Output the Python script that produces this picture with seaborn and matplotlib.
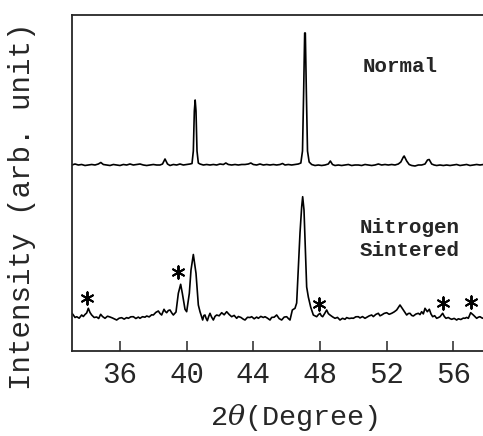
import matplotlib
matplotlib.use("Agg")
import matplotlib.pyplot as plt
import seaborn as sns
import pandas as pd

# ---- data (y in arbitrary, stacked units) ----
normal_x = [33.12, 33.3, 33.5, 33.7, 33.9, 34.1, 34.3, 34.5, 34.7, 34.85, 35.0, 35.2, 35.4, 35.6,
            35.8, 36.0, 36.2, 36.4, 36.6, 36.8, 37.0, 37.2, 37.4, 37.6, 37.8, 38.0, 38.2, 38.4,
            38.55, 38.7, 38.85, 39.0, 39.2, 39.4, 39.6, 39.8, 40.0, 40.2, 40.32, 40.40, 40.46,
            40.51, 40.56, 40.62, 40.70, 40.8, 41.0, 41.2, 41.4, 41.6, 41.8, 42.0, 42.2, 42.35,
            42.5, 42.7, 42.9, 43.1, 43.3, 43.5, 43.7, 43.85, 44.0, 44.2, 44.4, 44.6, 44.8, 45.0,
            45.2, 45.4, 45.6, 45.75, 45.9, 46.1, 46.3, 46.5, 46.7, 46.85, 46.95, 47.02, 47.08,
            47.12, 47.18, 47.25, 47.35, 47.5, 47.7, 47.9, 48.1, 48.3, 48.5, 48.62, 48.75, 48.9,
            49.1, 49.3, 49.5, 49.7, 49.9, 50.1, 50.3, 50.5, 50.7, 50.9, 51.1, 51.3, 51.5, 51.7,
            51.9, 52.1, 52.3, 52.5, 52.7, 52.85, 53.0, 53.05, 53.2, 53.35, 53.5, 53.7, 53.9,
            54.1, 54.3, 54.45, 54.55, 54.7, 54.85, 55.0, 55.2, 55.4, 55.6, 55.8, 56.0, 56.2,
            56.4, 56.6, 56.8, 57.0, 57.2, 57.4, 57.6, 57.8]
normal_y = [186, 187, 186, 186.5, 185.5, 186, 186.5, 186, 187, 188.5, 186.5, 186, 185.5, 186.5,
            186, 185.5, 186.5, 186, 187, 186, 186.5, 187, 186, 185.5, 186, 186.5, 186, 186,
            187, 192, 187, 185.5, 186.5, 186, 187, 186, 186.5, 187, 187.5, 200, 240,
            251, 240, 200, 188, 187, 186, 186.5, 186, 186.5, 186, 187, 186.5, 188,
            186.5, 186, 186.5, 186, 186.5, 186.5, 187, 188, 186.5, 186, 187, 186, 186.5, 186,
            186.5, 186, 186.5, 187.5, 186, 186.5, 186, 186.5, 187, 188, 200, 260, 318,
            318, 260, 200, 189, 186.5, 185.5, 186, 185.5, 186, 187, 190, 186.5, 185.5,
            186, 185.5, 186, 186.5, 185.5, 186, 186, 185.5, 186.5, 186, 185.5, 186, 187, 186,
            186.5, 186, 186.5, 186, 187, 189, 194, 195, 190, 186.5, 185.5, 185, 186,
            186, 187, 191, 191.5, 187, 186, 185.5, 186, 185.5, 186, 185.5, 186, 186.5,
            185.5, 186, 186.5, 185.5, 186, 186.5, 186, 186.5]

nitro_x = [33.12, 33.2, 33.3, 33.4, 33.55, 33.7, 33.8, 33.9, 34.0, 34.1, 34.2, 34.3, 34.45, 34.6,
           34.72, 34.84, 34.95, 35.1, 35.25, 35.4, 35.55, 35.7, 35.8, 35.95, 36.1, 36.25, 36.4,
           36.5, 36.65, 36.8, 36.95, 37.1, 37.2, 37.35, 37.5, 37.6, 37.75, 37.9, 38.0, 38.15,
           38.3, 38.4, 38.5, 38.64, 38.72, 38.8, 38.9, 39.0, 39.1, 39.2, 39.36, 39.5, 39.64,
           39.74, 39.9, 40.0, 40.16, 40.26, 40.4, 40.56, 40.7, 40.8, 40.88, 40.96, 41.03, 41.1,
           41.17, 41.24, 41.32, 41.4, 41.5, 41.6, 41.7, 41.8, 41.95, 42.1, 42.25, 42.4, 42.55,
           42.7, 42.85, 43.0, 43.1, 43.25, 43.4, 43.5, 43.65, 43.8, 43.9, 44.05, 44.2, 44.3,
           44.45, 44.6, 44.7, 44.85, 45.0, 45.1, 45.25, 45.4, 45.55, 45.7, 45.85, 46.0, 46.1,
           46.2, 46.34, 46.5, 46.6, 46.7, 46.8, 46.9, 46.96, 47.04, 47.12, 47.2, 47.3, 47.44,
           47.6, 47.7, 47.8, 47.9, 48.0, 48.08, 48.16, 48.28, 48.4, 48.5, 48.6, 48.75, 48.9,
           49.05, 49.2, 49.35, 49.5, 49.6, 49.75, 49.9, 50.0, 50.15, 50.3, 50.4, 50.55, 50.7,
           50.8, 50.95, 51.1, 51.2, 51.35, 51.5, 51.6, 51.7, 51.85, 52.0, 52.15, 52.3, 52.45,
           52.6, 52.8, 53.0, 53.1, 53.2, 53.3, 53.4, 53.5, 53.6, 53.75, 53.9, 54.0, 54.1, 54.2,
           54.3, 54.44, 54.56, 54.66, 54.76, 54.88, 55.0, 55.1, 55.2, 55.36, 55.46, 55.56,
           55.7, 55.8, 55.9, 56.05, 56.2, 56.3, 56.45, 56.6, 56.7, 56.8, 56.9, 57.04, 57.12,
           57.2, 57.3, 57.4, 57.5, 57.6, 57.7, 57.78]
nitro_y = [37.7, 36, 33.5, 34.3, 32.8, 36, 34.5, 36.5, 38, 42.7, 38.5, 36, 33.5, 34,
           32.5, 36.7, 34.5, 32.7, 34.8, 34, 33, 31.8, 31, 32.8, 33.3, 31.9, 33.4,
           32.7, 34.2, 34.3, 32.5, 33.9, 32.7, 34.3, 33.8, 35, 34.1, 36.2, 36, 38.6,
           40, 37.5, 36, 41.7, 39.5, 38.3, 40.5, 41, 38.2, 36, 39, 57.7, 66.7,
           57.7, 41.7, 39.3, 57.7, 81, 96.5, 77.7, 46, 39.3, 35, 31, 35.5, 36,
           32.5, 30.3, 34.5, 37.7, 33.8, 31, 34.6, 36, 35.2, 38.3, 36.2, 39.3, 36.5,
           34.3, 35.6, 32.7, 34.5, 33.6, 31.8, 31, 33.7, 33.5, 34.3, 32.2, 33.9, 32.7,
           34.6, 33.5, 34.3, 32.8, 31, 33.6, 33.8, 36, 32.4, 31, 33.9, 34.3, 32.5,
           31, 41, 42.7, 48, 84, 118, 144, 154.3, 141, 104, 64, 54, 44,
           36, 35.2, 34.3, 36.3, 37.7, 35.2, 34.3, 37.5, 41, 37.4, 36, 34.2, 32.7,
           33.6, 31, 32.7, 31.7, 33.4, 32.5, 32.9, 32.7, 34.2, 34.3, 33.1, 34.4, 32.7,
           33.7, 35.1, 36, 34.4, 36.6, 37.7, 35.2, 36, 37.6, 38.3, 36.7, 37.7, 39.1,
           41, 46, 41, 38.4, 36, 37.5, 37.7, 35.6, 35, 36.9, 37.7, 36.4, 39.3, 37.1,
           42.7, 39.3, 41.7, 37, 34.3, 35.3, 32.7, 33.4, 34.3, 37.7, 34.5, 32.7,
           33.5, 32.4, 31.7, 32.6, 31, 32.2, 31.5, 32.9, 32.7, 33.6, 32.7, 38.3, 37.2,
           36, 34.3, 32.7, 33.8, 34.3, 33.2, 32.7]

star_x = [34.04, 39.5, 47.94, 55.4, 57.04]
star_y = [52.7, 79.0, 47.0, 47.7, 48.7]

x_ticks = [36, 40, 44, 48, 52, 56]
labels = ["Normal", "Nitrogen\nSintered"]

# ---- styling ----
sns.set_style("ticks")
plt.rcParams["font.family"] = ["Liberation Mono", "DejaVu Sans"]
plt.rcParams["mathtext.fontset"] = "dejavuserif"

fig = plt.figure(figsize=(4.83, 4.36), dpi=100)
ax = fig.add_axes([72 / 483, 1 - 351 / 436, 1 - 72 / 483, (351 - 15) / 436])

df_n = pd.DataFrame({"x": normal_x, "y": normal_y})
df_s = pd.DataFrame({"x": nitro_x, "y": nitro_y})
sns.lineplot(data=df_n, x="x", y="y", ax=ax, color="black", linewidth=1.2, sort=False)
sns.lineplot(data=df_s, x="x", y="y", ax=ax, color="black", linewidth=1.2, sort=False)

ax.scatter(star_x, star_y, marker=(6, 2, 0), s=80, color="black", linewidths=1.4)

ax.text(52.8, 285, labels[0], ha="center", va="center", fontsize=15, fontweight="bold")
ax.text(53.4, 112, labels[1], ha="center", va="center", fontsize=15, fontweight="bold",
        linespacing=1.25)

ax.set_xlim(33.12, 57.78)
ax.set_ylim(0, 336)
ax.set_xticks(x_ticks)
ax.set_xticklabels([str(t) for t in x_ticks])
ax.set_yticks([])
ax.tick_params(axis="x", direction="in", length=7, width=1.1, labelsize=21, pad=7)
for side in ["left", "bottom", "top"]:
    ax.spines[side].set_linewidth(1.3)
    ax.spines[side].set_visible(True)
ax.spines["right"].set_visible(False)

ax.set_xlabel(r"2$\it{\theta}$(Degree)", fontsize=20.5)
ax.set_ylabel("Intensity (arb. unit)", fontsize=21)
ax.xaxis.set_label_coords(0.54, -0.153)
ax.yaxis.set_label_coords(-0.088, 0.43)

fig.savefig("out.png", dpi=100)
